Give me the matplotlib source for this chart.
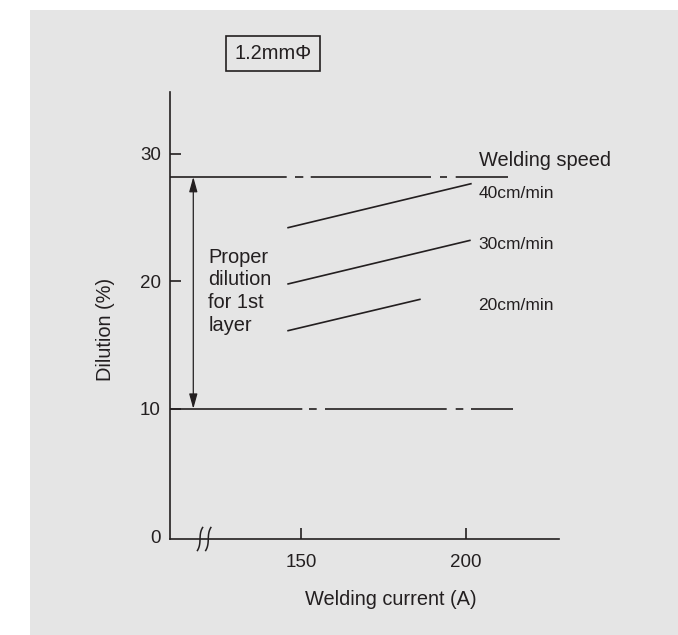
import numpy as np
import matplotlib
matplotlib.use("Agg")
import matplotlib.pyplot as plt
import matplotlib.transforms as mtransforms
from matplotlib.patches import Rectangle

plt.rcParams['font.family'] = ['Liberation Sans', 'DejaVu Sans']
plt.rcParams['lines.scale_dashes'] = False

# ---------------- data ----------------
speed_labels = ["40cm/min", "30cm/min", "20cm/min"]
speed_x_start = [145.85, 145.85, 145.85]
speed_x_end = [201.74, 201.43, 186.28]
speed_y_start = [24.18, 19.77, 16.11]
speed_y_end = [27.65, 23.21, 18.59]

upper_limit = 28.17
lower_limit = 10.0
upper_x_end = 212.65
lower_x_end = 214.17

x_ticks = [150, 200]
y_ticks = [0, 10, 20, 30]
x_limits = (110.3, 228.2)
y_limits = (-0.2, 34.8)
arrow_x = 117.36
break_x = [119.4, 121.9]

INK = '#231f20'
PX = 0.72  # points per pixel at dpi 100

fig = plt.figure(figsize=(6.78, 6.35), dpi=100, facecolor='white')
fig.patches.append(Rectangle((30 / 678, 0), 1 - 30 / 678, 1 - 10 / 635,
                             transform=fig.transFigure, facecolor='#e5e5e5',
                             edgecolor='none', zorder=-10))

ax = fig.add_axes([170 / 678, (635 - 539) / 635, 389 / 678, (539 - 92.3) / 635])
ax.set_facecolor('none')
ax.set_xlim(*x_limits)
ax.set_ylim(*y_limits)

for s in ['top', 'right']:
    ax.spines[s].set_visible(False)
for s in ['left', 'bottom']:
    ax.spines[s].set_color(INK)
    ax.spines[s].set_linewidth(1.2)

ax.set_xticks(x_ticks)
ax.set_yticks(y_ticks)
ax.tick_params(axis='both', direction='in', length=8, width=1.2, color=INK,
               labelsize=13.5, labelcolor=INK)
ax.tick_params(axis='x', pad=11)
ax.tick_params(axis='y', pad=6.5)
ax.yaxis.get_major_ticks()[0].tick1line.set_visible(False)

ax.set_xlabel('Welding current (A)', fontsize=14.4, color=INK)
ax.xaxis.set_label_coords((391 - 170) / 389, (539 - 590) / 446.7)
ax.set_ylabel('Dilution (%)', fontsize=14.4, color=INK)
ax.yaxis.set_label_coords((115 - 170) / 389, (539 - 329) / 446.7)

# limit lines (dash-dot style)
upper_ls = (0, (116.7 * PX, 8.3 * PX, 8.3 * PX, 7.4 * PX, 120.3 * PX, 9 * PX, 7 * PX, 8.7 * PX, 200))
lower_ls = (0, (132.3 * PX, 6.7 * PX, 7.7 * PX, 8.3 * PX, 121.7 * PX, 9 * PX, 7.6 * PX, 7.7 * PX, 200))
ax.plot([x_limits[0], upper_x_end], [upper_limit, upper_limit], color=INK, lw=1.2,
        linestyle=upper_ls, solid_capstyle='butt', dash_capstyle='butt')
ax.plot([x_limits[0], lower_x_end], [lower_limit, lower_limit], color=INK, lw=1.2,
        linestyle=lower_ls, solid_capstyle='butt', dash_capstyle='butt')

# speed lines
for xs, xe, ys, ye in zip(speed_x_start, speed_x_end, speed_y_start, speed_y_end):
    ax.plot([xs, xe], [ys, ye], color=INK, lw=1.2, solid_capstyle='butt')

# arrow
ax.annotate('', xy=(arrow_x, upper_limit), xytext=(arrow_x, lower_limit),
            arrowprops=dict(arrowstyle='<|-|>,head_length=0.9,head_width=0.25',
                            mutation_scale=10, lw=0.9, color=INK,
                            shrinkA=0, shrinkB=0))

# texts
ax.text(121.9, 16.11, 'Proper\ndilution\nfor 1st\nlayer', fontsize=14.4, color=INK,
        ha='left', va='baseline', linespacing=1.25)
ax.text(203.95, 29.01, 'Welding speed', fontsize=14.4, color=INK, ha='left', va='baseline')
label_y = [26.48, 22.56, 17.73]
for lab, ly in zip(speed_labels, label_y):
    ax.text(203.74, ly, lab, fontsize=12.5, color=INK, ha='left', va='baseline')

# axis break marks
t = np.linspace(-1, 1, 60)
bx = -(0.004 * t + 0.022 * t ** 3)
by = -0.115 * t
for xb in break_x:
    tr = fig.dpi_scale_trans + mtransforms.ScaledTranslation(xb, y_limits[0], ax.transData)
    ax.plot(bx, by, color=INK, lw=1.1, transform=tr, clip_on=False)

# title box
fig.text(273 / 678, 1 - 53.3 / 635, '1.2mm\u03a6', fontsize=14.4, color=INK,
         ha='center', va='center',
         bbox=dict(boxstyle='square,pad=0.4', facecolor='none', edgecolor=INK, lw=1.2))

fig.savefig('out.png', dpi=100, facecolor=fig.get_facecolor())
